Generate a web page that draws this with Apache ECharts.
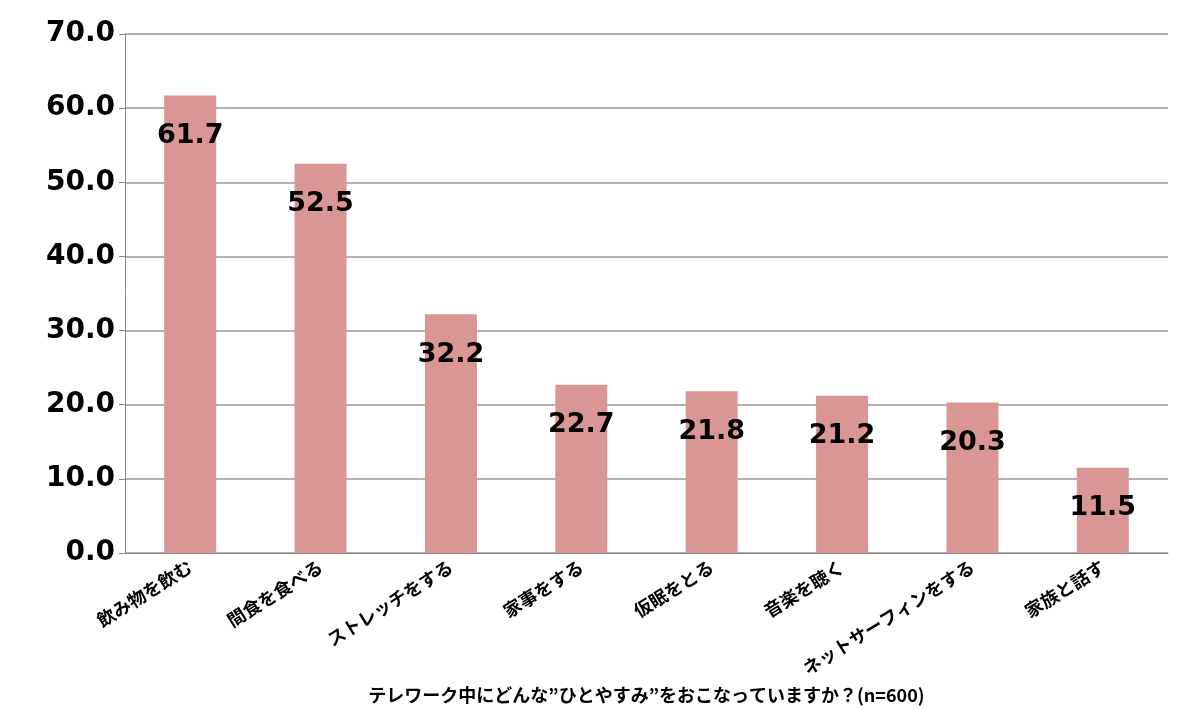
<!DOCTYPE html><html><head><meta charset="utf-8"><script src="https://cdn.jsdelivr.net/npm/echarts@6/dist/echarts.min.js"></script></head><body style="margin:0"><div id="c" style="width:1200px;height:709px"></div><script>
const categories=['飲み物を飲む','間食を食べる','ストレッチをする','家事をする','仮眠をとる','音楽を聴く','ネットサーフィンをする','家族と話す'];
const values=[61.7,52.5,32.2,22.7,21.8,21.2,20.3,11.5];
const title='テレワーク中にどんな”ひとやすみ”をおこなっていますか？(n=600)';
const ch=echarts.init(document.getElementById('c'));
ch.setOption({animation:false,
grid:{left:125,right:32,top:34,bottom:156},
xAxis:{type:'category',data:categories,name:title,nameLocation:'middle',nameGap:133,
 nameTextStyle:{fontFamily:'Noto Sans CJK JP',fontWeight:'bold',fontSize:18,color:'#000'},
 axisLine:{lineStyle:{color:'#888'}},axisTick:{lineStyle:{color:'#888'},length:5},
 axisLabel:{rotate:32,interval:0,fontFamily:'Noto Sans CJK JP',fontWeight:'bold',fontSize:18,color:'#000',margin:12}},
yAxis:{type:'value',min:0,max:70,interval:10,
 axisLine:{show:true,lineStyle:{color:'#888'}},axisTick:{show:true,lineStyle:{color:'#888'},length:6},
 splitLine:{lineStyle:{color:'#999',width:1.5}},
 axisLabel:{formatter:v=>v.toFixed(1),fontFamily:'DejaVu Sans',fontWeight:'bold',fontSize:28,color:'#000',margin:10}},
series:[{type:'bar',data:values,barWidth:52,itemStyle:{color:'#d99694'},
 label:{show:true,position:'insideTop',distance:27,formatter:p=>p.value.toFixed(1),fontFamily:'DejaVu Sans',fontWeight:'bold',fontSize:27,color:'#000'}}]});
</script></body></html>
